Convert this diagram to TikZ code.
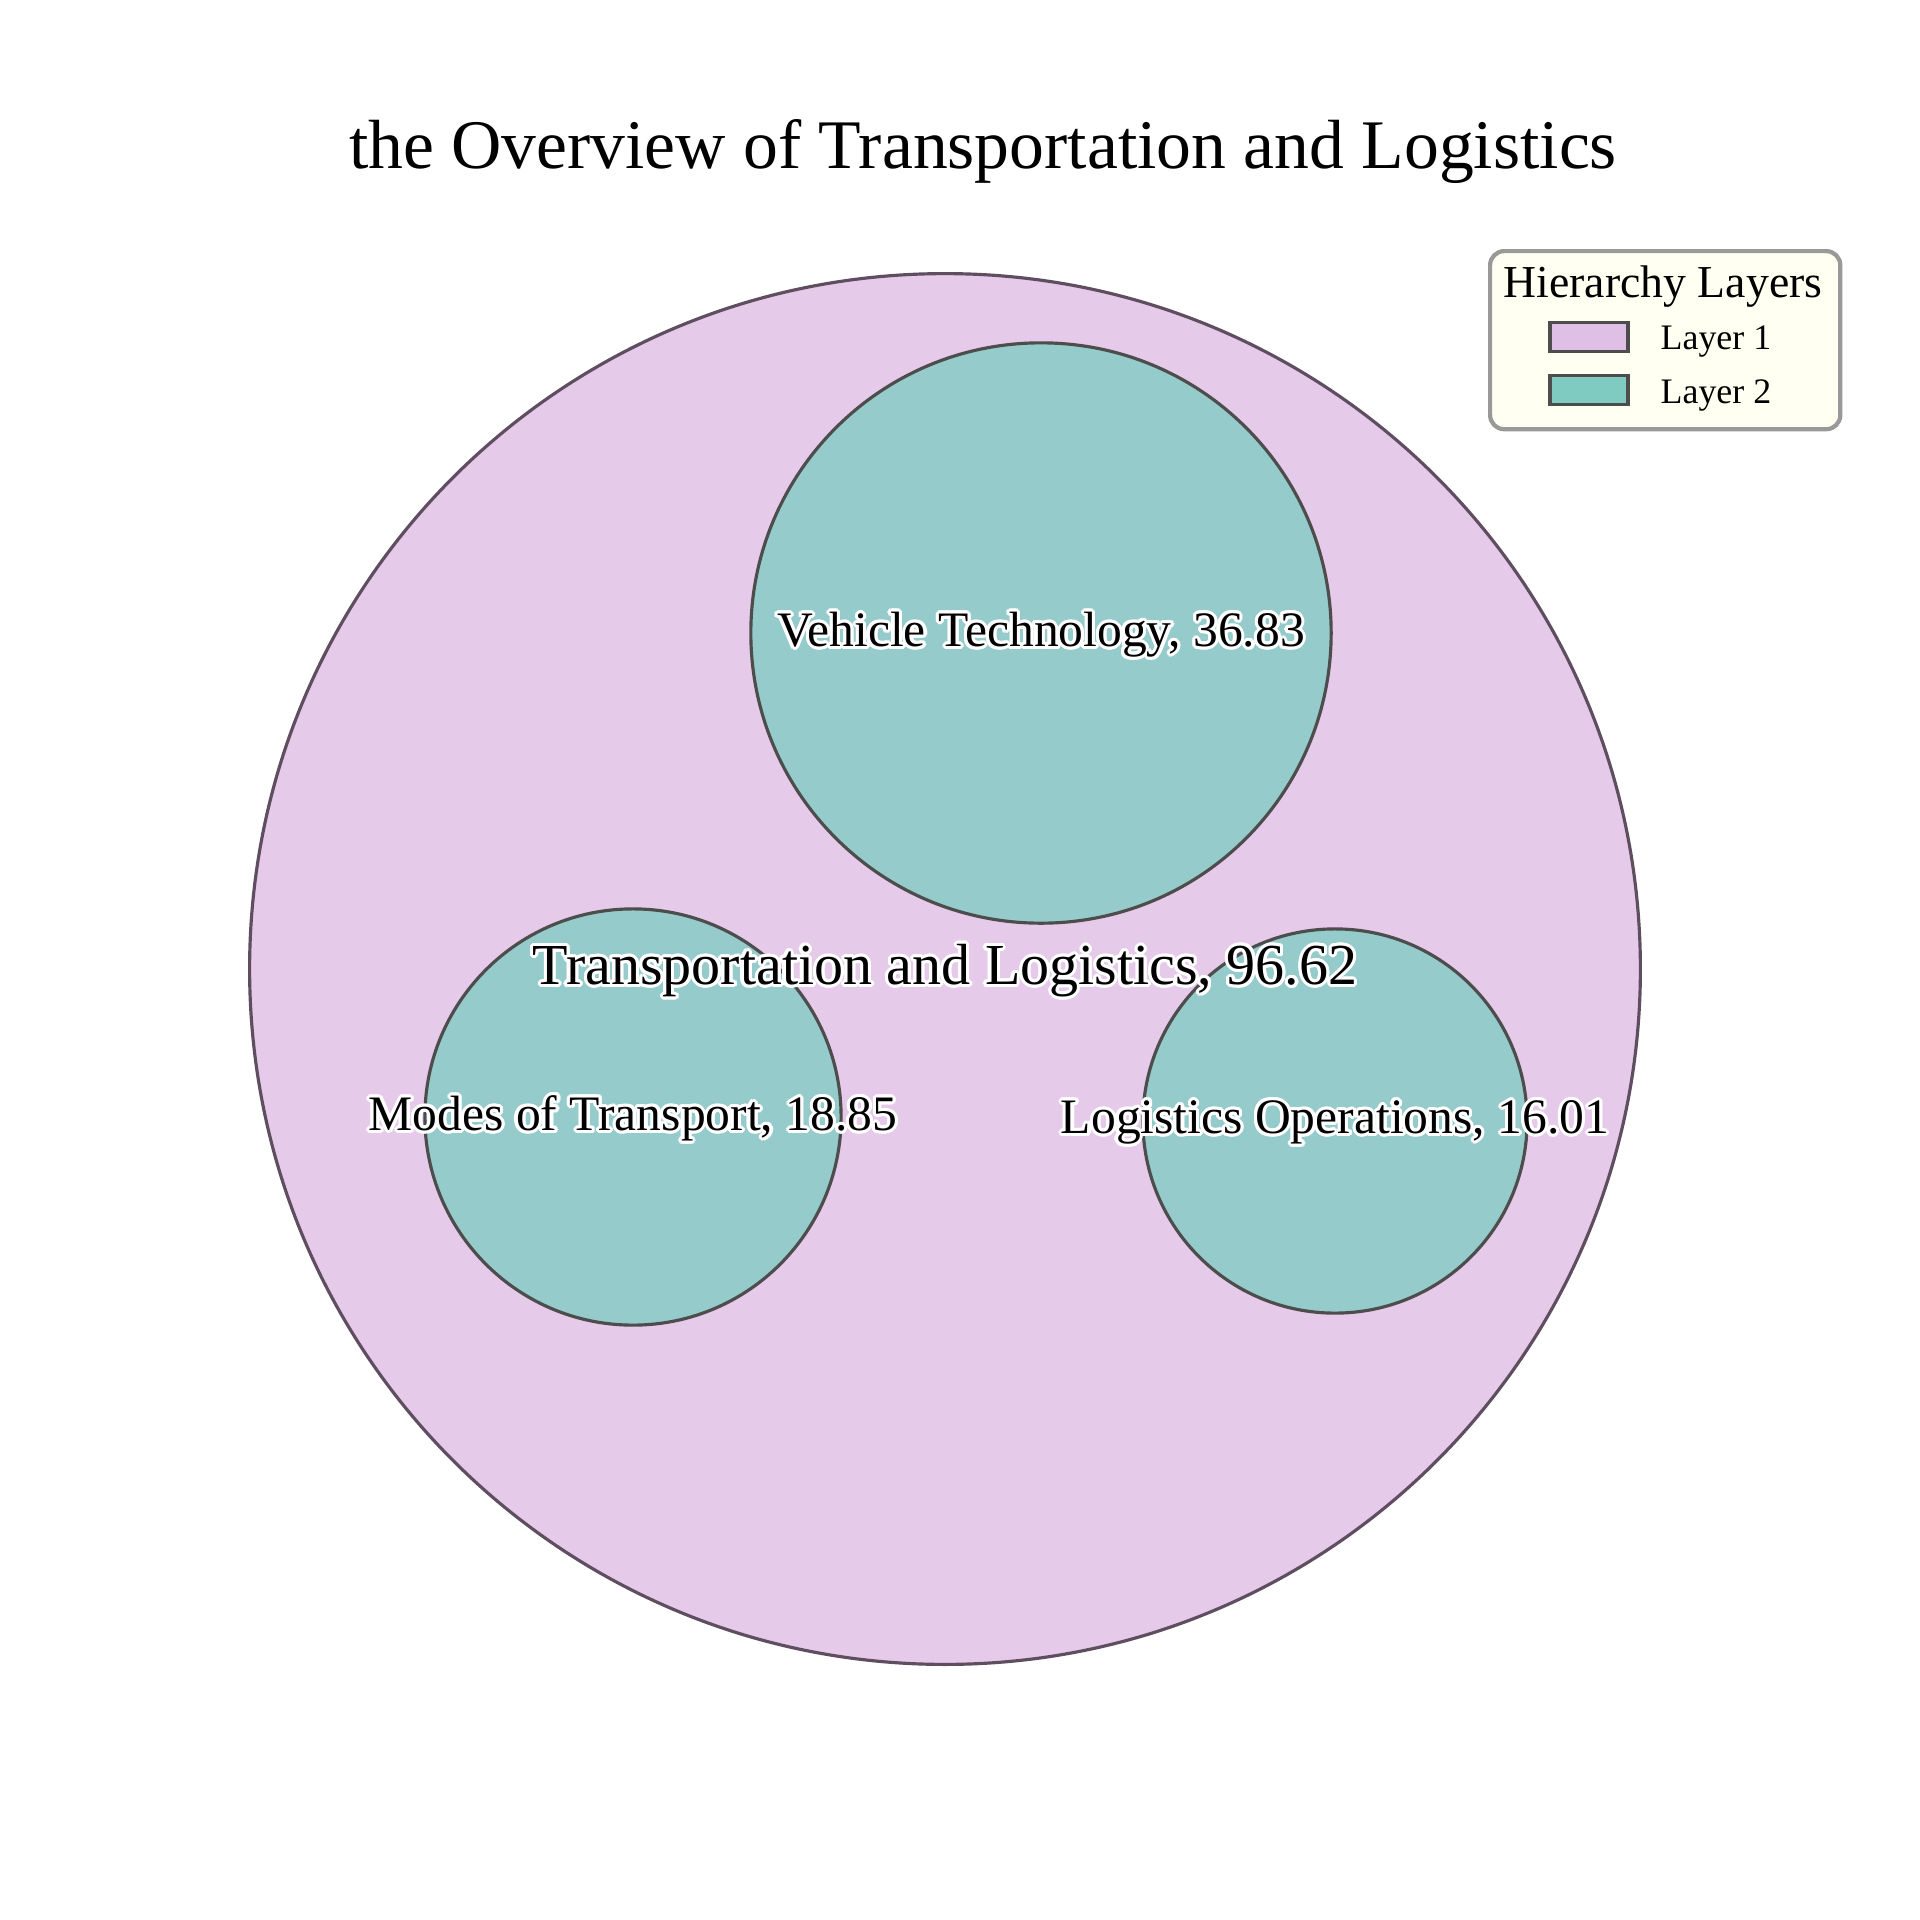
\documentclass[tikz,border=0pt]{standalone}
\usepackage{fontspec}
\setmainfont{Liberation Serif}
\usepackage[copies]{contour}
\contourlength{0.9pt}
\usetikzlibrary{positioning}
\definecolor{fillA}{HTML}{E6CAE9}
\definecolor{fillB}{HTML}{96CBCB}
\definecolor{edgeA}{HTML}{5E4E60}
\definecolor{edgeB}{HTML}{4D4D4D}
\definecolor{keyA}{HTML}{E0BFE6}
\definecolor{keyB}{HTML}{7FCBC2}
\definecolor{keyfill}{HTML}{FFFFF2}
\definecolor{keyframe}{HTML}{999999}

\begin{document}
\begin{tikzpicture}[x=0.01cm,y=-0.01cm,
  bub/.style={circle,draw=edgeB,fill=fillB,line width=0.9pt,inner sep=0pt,outer sep=0pt},
  sub/.style={font=\fontsize{14.1}{17}\selectfont,yshift=-0.03cm},
  ent/.style={font=\fontsize{10.2}{12}\selectfont,inner sep=0pt,yshift=-0.05cm},
  key/.style={draw=#1,line width=1.1pt,minimum width=0.78cm,minimum height=0.29cm,inner sep=0pt}]
\useasboundingbox (0,0) rectangle (1920,1920);

\node[bub,draw=edgeA,fill=fillA,minimum size=13.9cm] (TL) at (945,969) {};
\node[bub,minimum size=5.8cm]  (VT) at (1041,633)  {};
\node[bub,minimum size=4.16cm] (MT) at (633,1117)  {};
\node[bub,minimum size=3.84cm] (LO) at (1335,1121) {};

\node[sub,font=\fontsize{16.5}{20}\selectfont] (tl) at (TL.center) {\contour{white}{Transportation and Logistics, 96.62}};
\node[sub] (vt) at (VT.center) {\contour{white}{Vehicle Technology, 36.83}};
\node[sub] (mt) at (MT.center) {\contour{white}{Modes of Transport, 18.85}};
\node[sub] (lo) at (LO.center) {\contour{white}{Logistics Operations, 16.01}};

\node[font=\fontsize{19.8}{24}\selectfont,anchor=base] (title) at (983,168) {the Overview of Transportation and Logistics};

% legend
\node[draw=keyframe,fill=keyfill,rounded corners=4pt,line width=1.2pt,
      minimum width=3.5cm,minimum height=1.78cm,anchor=north west] (legend) at (1488,249) {};
\node[font=\fontsize{13}{16}\selectfont,anchor=base] (ltitle) at (1663,297) {Hierarchy Layers};
\node[key=edgeB,fill=keyA] (k1) at (1589,337) {};
\node[key=edgeB,fill=keyB] (k2) at (1589,390) {};
\node[ent,right=0.3cm of k1] (l1) {Layer 1};
\node[ent,right=0.3cm of k2] (l2) {Layer 2};
\end{tikzpicture}
\end{document}
